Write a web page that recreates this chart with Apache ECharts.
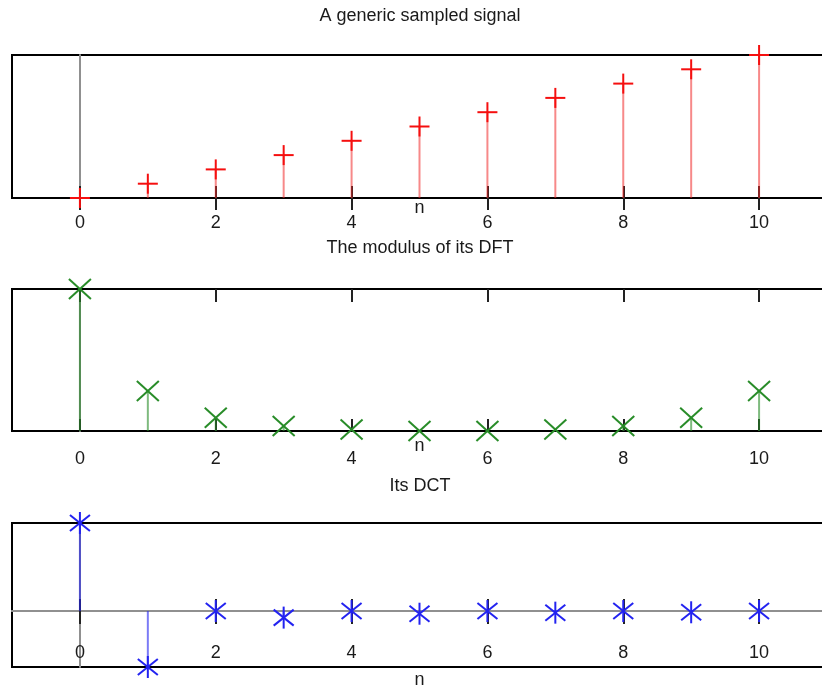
<!DOCTYPE html>
<html>
<head>
<meta charset="utf-8">
<script src="https://cdn.jsdelivr.net/npm/echarts@6/dist/echarts.min.js"></script>
<style>
html, body { margin: 0; padding: 0; background: #fff; }
#main { width: 822px; height: 689px; }
</style>
</head>
<body>
<div id="main"></div>
<script>
var n = [0, 1, 2, 3, 4, 5, 6, 7, 8, 9, 10];
var signal = [0, 1, 2, 3, 4, 5, 6, 7, 8, 9, 10];
var dftModulus = [55, 19.52, 10.17, 7.28, 6.05, 5.56, 5.56, 6.05, 7.28, 10.17, 19.52];
var dctValues = [16.58, -10.53, 0, -1.23, 0, -0.5, 0, -0.3, 0, -0.23, 0];
var tickValues = [0, 2, 4, 6, 8, 10];
var titles = ['A generic sampled signal', 'The modulus of its DFT', 'Its DCT'];

var FONT = 'Liberation Sans';
var TEXT = '#1a1a1a';

var pairs = function(ys) {
    return n.map(function(x, i) { return [x, ys[i]]; });
};

// marker strokes, relative to the point
var markers = {
    plus: [[-10, 0, 10, 0], [0, -10, 0, 10]],
    cross: [[-11, -10, 11, 10], [-11, 10, 11, -10]],
    star: [[0, -11, 0, 11], [-10, -8, 10, 8], [-10, 8, 10, -8]]
};

var stemSeries = function(xIdx, yIdx, ys, base, marker, color, stemColor) {
    return {
        type: 'custom',
        xAxisIndex: xIdx,
        yAxisIndex: yIdx,
        clip: false,
        z: 5,
        data: pairs(ys),
        renderItem: function(params, api) {
            var x = api.value(0);
            var tip = api.coord([x, api.value(1)]);
            var foot = api.coord([x, base]);
            var children = [{
                type: 'line',
                shape: {x1: foot[0], y1: foot[1], x2: tip[0], y2: tip[1]},
                style: {stroke: stemColor, lineWidth: 2}
            }];
            markers[marker].forEach(function(m) {
                children.push({
                    type: 'line',
                    shape: {x1: tip[0] + m[0], y1: tip[1] + m[1], x2: tip[0] + m[2], y2: tip[1] + m[3]},
                    style: {stroke: color, lineWidth: 2}
                });
            });
            return {type: 'group', children: children};
        }
    };
};

var ticks = function(inside, len) {
    return {show: true, customValues: tickValues, inside: inside, length: len,
        lineStyle: {color: '#222', width: 2}};
};

var labels = function(margin, inside) {
    return {show: true, customValues: tickValues, margin: margin, inside: !!inside,
        fontFamily: FONT, fontSize: 18, color: TEXT};
};

var xAxis = function(grid, extra) {
    return Object.assign({
        type: 'value', gridIndex: grid, min: -1, max: 11,
        splitLine: {show: false},
        axisLine: {show: false, onZero: false},
        axisTick: {show: false},
        axisLabel: {show: false},
        nameMoveOverlap: false,
        nameTextStyle: {fontFamily: FONT, fontSize: 18, color: TEXT}
    }, extra);
};

var yAxis = function(grid, xIdx, min, max) {
    return {
        type: 'value', gridIndex: grid, min: min, max: max,
        axisLine: {show: true, onZero: true, onZeroAxisIndex: xIdx,
            lineStyle: {color: '#909090', width: 2}},
        axisTick: {show: false},
        axisLabel: {show: false},
        splitLine: {show: false}
    };
};

var gridBox = function(top, height) {
    return {left: 12, top: top, width: 815, height: height, show: true,
        borderColor: '#000', borderWidth: 2, backgroundColor: 'transparent',
        outerBoundsMode: 'none'};
};

var zeroLine = {show: true, onZero: true, onZeroAxisIndex: 2,
    lineStyle: {color: '#909090', width: 2}};

var titleTops = [7, 239, 477];

var option = {
    animation: false,
    title: titles.map(function(t, i) {
        return {text: t, left: 420, top: titleTops[i], textAlign: 'center', padding: 0,
            textStyle: {fontFamily: FONT, fontSize: 18, fontWeight: 'normal', color: TEXT}};
    }),
    grid: [gridBox(55, 143), gridBox(289, 142), gridBox(523, 144)],
    xAxis: [
        xAxis(0, {position: 'bottom', axisTick: ticks(false, 12), axisLabel: labels(16),
            name: 'n', nameLocation: 'middle', nameGap: 1}),
        xAxis(0, {position: 'bottom', axisTick: ticks(true, 12)}),
        xAxis(1, {position: 'bottom', axisTick: ticks(true, 12), axisLabel: labels(19),
            name: 'n', nameLocation: 'middle', nameGap: 6}),
        xAxis(1, {position: 'top', axisTick: ticks(true, 13)}),
        xAxis(2, {position: 'bottom', axisTick: ticks(true, 12), axisLine: zeroLine}),
        xAxis(2, {position: 'bottom', axisTick: ticks(false, 13), axisLine: zeroLine}),
        xAxis(2, {position: 'bottom', axisLabel: labels(5, true),
            name: 'n', nameLocation: 'middle', nameGap: 4})
    ],
    yAxis: [
        yAxis(0, 0, 0, 10),
        yAxis(1, 2, Math.min.apply(null, dftModulus), Math.max.apply(null, dftModulus)),
        yAxis(2, 4, Math.min.apply(null, dctValues), Math.max.apply(null, dctValues))
    ],
    series: [
        stemSeries(0, 0, signal, 0, 'plus', 'rgb(245,15,15)', 'rgba(240,40,40,0.55)'),
        stemSeries(2, 1, dftModulus, Math.min.apply(null, dftModulus), 'cross', 'rgb(40,140,40)', 'rgba(40,140,40,0.6)'),
        stemSeries(4, 2, dctValues, 0, 'star', 'rgb(35,35,240)', 'rgba(35,35,240,0.6)')
    ]
};

var chart = echarts.init(document.getElementById('main'));
chart.setOption(option);
</script>
</body>
</html>
